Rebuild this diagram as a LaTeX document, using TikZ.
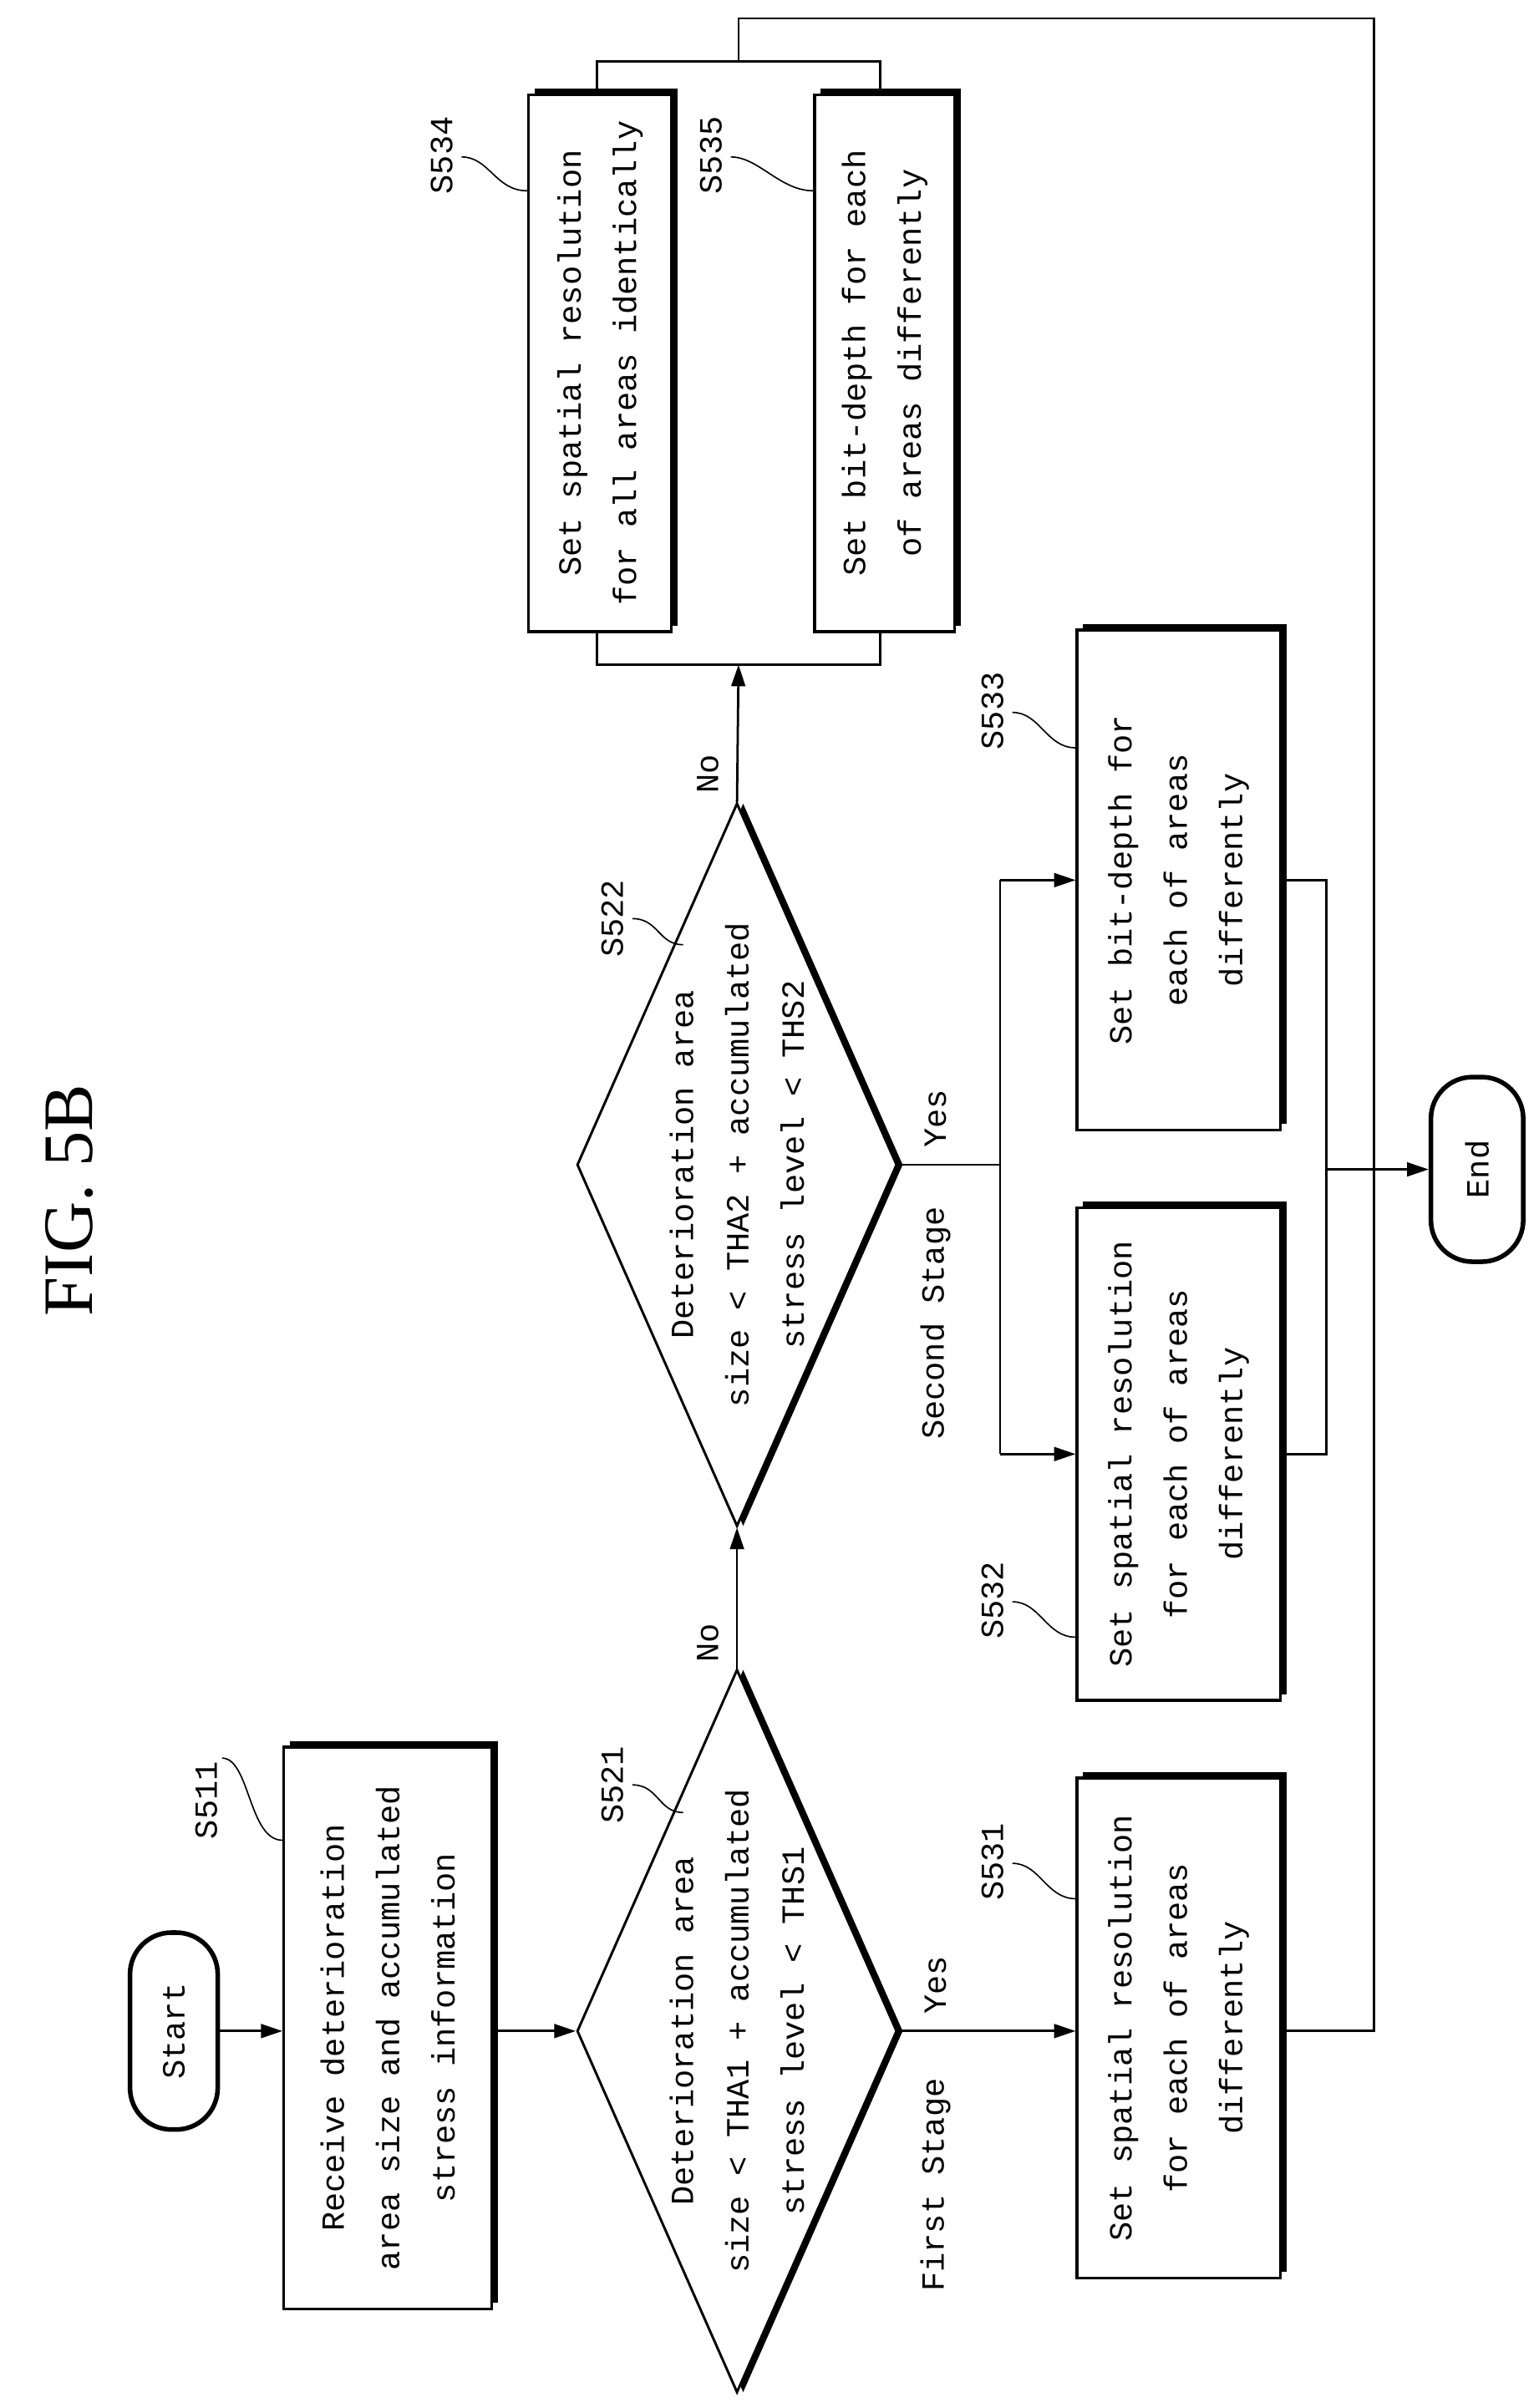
\documentclass[tikz,border=0pt]{standalone}
\usepackage{fontspec}
\setmonofont{Liberation Mono}
\setmainfont{Liberation Serif}
\usetikzlibrary{shapes.geometric,arrows.meta,shadows}
\begin{document}
\begin{tikzpicture}[x=1pt,y=-1pt,
 txt/.style={font=\ttfamily\fontsize{21}{36}\selectfont, align=center, rotate=90, inner sep=0},
 lbl/.style={font=\ttfamily\fontsize{21}{24}\selectfont, rotate=90, inner sep=0},
 box/.style={draw, line width=1.8pt, fill=white, inner sep=0, general shadow={fill=black, shadow xshift=4pt, shadow yshift=4pt}},
 dia/.style={diamond, draw, line width=1.6pt, fill=white, inner sep=0, minimum width=208pt, minimum height=470pt, general shadow={fill=black, shadow xshift=4pt, shadow yshift=0pt}},
 term/.style={draw, line width=3pt, rounded corners=27pt, fill=white, inner sep=0},
 ln/.style={line width=1.5pt},
 arr/.style={ln, -{Triangle[length=14pt,width=9pt]}},
 lead/.style={line width=0.9pt}
]
\path[use as bounding box] (0,0) rectangle (1000,1565);

\node[font=\rmfamily\fontsize{46}{50}\selectfont, rotate=90] (title) at (45,780) {FIG.\ 5B};

% terminals
\node[term, minimum width=57pt, minimum height=128pt] (start) at (113,1320) {};
\node[txt] (starttxt) at (start) {Start};
\node[term, minimum width=60pt, minimum height=120pt] (end) at (960,760) {};
\node[txt] (endtxt) at (end) {End};

% boxes
\node[box, minimum width=135pt, minimum height=365pt] (s511) at (252,1318) {};
\node[txt] (t511) at (s511) {Receive deterioration\\area size and accumulated\\stress information};
\node[box, minimum width=93pt, minimum height=349pt] (s534) at (390,236) {};
\node[txt] (t534) at (s534) {Set spatial resolution\\for all areas identically};
\node[box, minimum width=91pt, minimum height=349pt] (s535) at (575,236) {};
\node[txt] (t535) at (s535) {Set bit-depth for each\\of areas differently};
\node[box, minimum width=132pt, minimum height=325pt] (s531) at (766,1318) {};
\node[txt] (t531) at (s531) {Set spatial resolution\\for each of areas\\differently};
\node[box, minimum width=132pt, minimum height=320pt] (s532) at (766,945) {};
\node[txt] (t532) at (s532) {Set spatial resolution\\for each of areas\\differently};
\node[box, minimum width=132pt, minimum height=325pt] (s533) at (766,572) {};
\node[txt] (t533) at (s533) {Set bit-depth for\\each of areas\\differently};

% diamonds
\node[dia] (d1) at (479,1320) {};
\node[txt] (td1) at (d1) {Deterioration area\\size < THA1 + accumulated\\stress level < THS1};
\node[dia] (d2) at (479,757) {};
\node[txt] (td2) at (d2) {Deterioration area\\size < THA2 + accumulated\\stress level < THS2};

% step labels
\node[lbl] (l511) at (134,1170) {S511};
\draw[lead] (l511.south east) ++(3,-2) coordinate (a511) .. controls +(18,0) and +(-22,0) .. (s511.west |- 0,1196);
\node[lbl] (l534) at (287,101) {S534};
\draw[lead] (300,102) .. controls (318,102) and (322,124) .. (s534.west |- 0,124);
\node[lbl] (l535) at (462,101) {S535};
\draw[lead] (475,102) .. controls (493,102) and (507,124) .. (s535.west |- 0,124);
\node[lbl] (l521) at (398,1160) {S521};
\draw[lead] (411,1160) .. controls (428,1160) and (428,1178) .. (444,1178);
\node[lbl] (l522) at (398,597) {S522};
\draw[lead] (411,597) .. controls (428,597) and (428,614) .. (444,614);
\node[lbl] (l531) at (645,1210) {S531};
\draw[lead] (658,1211) .. controls (676,1211) and (680,1234) .. (s531.west |- 0,1234);
\node[lbl] (l532) at (645,1040) {S532};
\draw[lead] (658,1041) .. controls (676,1041) and (680,1064) .. (s532.west |- 0,1064);
\node[lbl] (l533) at (645,462) {S533};
\draw[lead] (658,463) .. controls (676,463) and (680,486) .. (s533.west |- 0,486);

% branch labels
\node[lbl] (no1) at (460,1068) {No};
\node[lbl] (no2) at (460,503) {No};
\node[lbl] (fs) at (608,1420) {First Stage};
\node[lbl] (y1) at (608,1290) {Yes};
\node[lbl] (ss) at (608,860) {Second Stage};
\node[lbl] (y2) at (608,727) {Yes};

% coordinates
\coordinate (bb) at (480,432);
\coordinate (bt) at (480,40);
\coordinate (split) at (650,757);
\coordinate (merge) at (862,760);

% connectors
\draw[arr] (start.east) -- (s511.west |- start.east);
\draw[arr] (s511.east |- start.east) -- (d1.west);
\draw[arr] (d1.north) -- (d2.south);
\draw[arr] (d2.north) -- (bb);
\draw[ln] (388,410) -- (388,432) -- (572,432) -- (572,410);
\draw[ln] (388,61) -- (388,40) -- (572,40) -- (572,61);
\draw[ln] (bt) -- (480,12) -- (893,12) -- (893,1320) -- (s531.east |- d1.east);
\draw[arr] (d1.east) -- (s531.west |- d1.east);
\draw[ln] (d2.east) -- (split);
\draw[ln] (650,572) -- (650,945);
\draw[arr] (650,572) -- (s533.west);
\draw[arr] (650,945) -- (s532.west);
\draw[ln] (s533.east) -- (862,572) -- (862,945) -- (s532.east);
\draw[arr] (merge) -- (end.west);
\end{tikzpicture}
\end{document}
